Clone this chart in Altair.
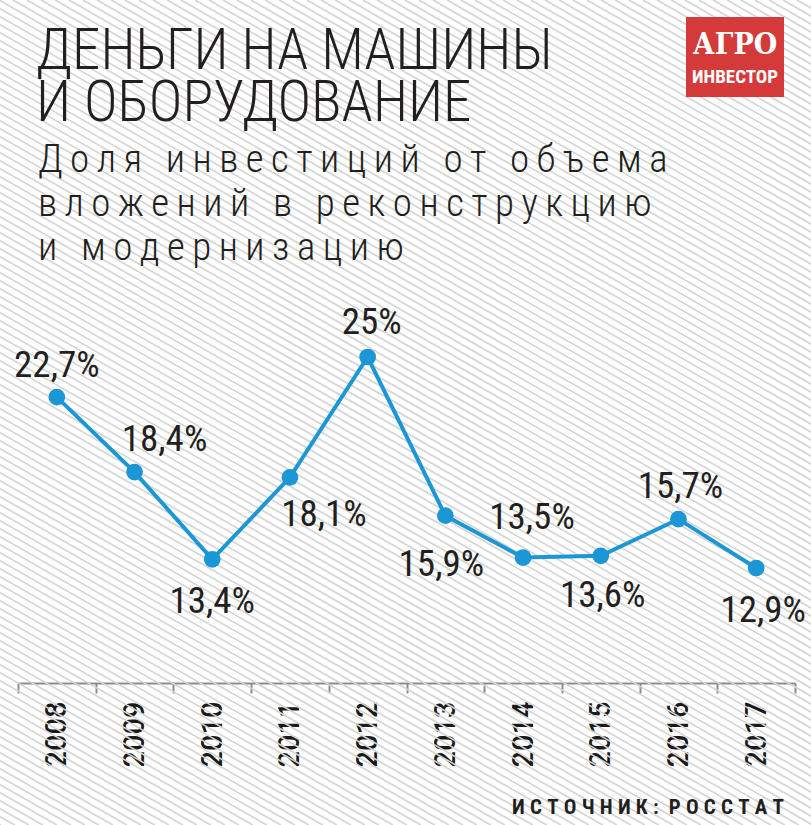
import altair as alt
import pandas as pd

# ---- data ----
years = ["2008", "2009", "2010", "2011", "2012", "2013", "2014", "2015", "2016", "2017"]
shares = [22.7, 18.4, 13.4, 18.1, 25.0, 15.9, 13.5, 13.6, 15.7, 12.9]
labels = ["22,7%", "18,4%", "13,4%", "18,1%", "25%", "15,9%", "13,5%", "13,6%", "15,7%", "12,9%"]

title_lines = ["ДЕНЬГИ НА МАШИНЫ", "И ОБОРУДОВАНИЕ"]
subtitle_lines = ["Доля инвестиций от объема", "вложений в реконструкцию", "и модернизацию"]
source_text = "ИСТОЧНИК: РОССТАТ"
logo_top = "АГРО"
logo_bottom = "ИНВЕСТОР"

# ---- layout (pixel offsets of value labels from their points) ----
label_dx = [0, 30, 0, 34, 4, -4, 9, 2, 2, 7]
label_dy = [-20, -21, 54, 49, -23, 60, -29, 51, -21, 54]

W, H_VIEW, H_TOTAL = 811, 683, 825
BLUE = "#1a97d4"
INK = "#231f20"
NARROW = "'Roboto Condensed', 'Liberation Sans Narrow', 'DejaVu Sans Condensed', 'Arial Narrow', 'Liberation Sans', sans-serif"
SANS = "Roboto, 'Liberation Sans', Arial, sans-serif"


def spaced(s, letter_gap, word_gap):
    words = s.split(" ")
    return word_gap.join(letter_gap.join(list(w)) for w in words)


df = pd.DataFrame({"year": years, "share": shares, "label": labels})

# decorative diagonal hatch of the background
step, rise, run = 14, 8, 14
span = H_TOTAL * run / rise
hatch = pd.DataFrame({"x": [float(v) for v in range(-int(span) - step, W + step, step)]})
hatch["x2"] = hatch["x"] + span
hatch["y"] = 0.0
hatch["y2"] = float(H_TOTAL)

hatch_layer = alt.Chart(hatch).mark_rule(color="#d3d3d3", strokeWidth=1.6).encode(
    x=alt.X("x:Q", scale=None), x2="x2:Q",
    y=alt.Y("y:Q", scale=None), y2="y2:Q",
)

xenc = alt.X("year:N", sort=years,
             scale=alt.Scale(range=[18, 795], paddingInner=0, paddingOuter=0),
             axis=alt.Axis(title=None, labelAngle=-90, labelFont=SANS, labelFontWeight=500,
                           labelFontSize=29, labelColor="#1a1a1a", labelPadding=8,
                           domainColor="#8c8c8c", domainWidth=2,
                           tickColor="#8c8c8c", tickWidth=2, tickSize=10,
                           tickBand="extent", grid=False))
yenc = alt.Y("share:Q", scale=alt.Scale(domain=[12.9, 25.0], range=[568, 357], zero=False),
             axis=None)

base = alt.Chart(df)
line = base.mark_line(color=BLUE, strokeWidth=4).encode(x=xenc, y=yenc)
pts = base.mark_point(filled=True, color=BLUE, size=280, opacity=1).encode(x=xenc, y=yenc)

label_layers = []
for yr, ddx, ddy in zip(years, label_dx, label_dy):
    label_layers.append(
        base.transform_filter(alt.datum.year == yr).mark_text(
            font=NARROW, fontSize=37, color=INK, align="center",
            baseline="alphabetic", dx=ddx, dy=ddy,
        ).encode(x=xenc, y=yenc, text="label:N")
    )

title = alt.Chart(pd.DataFrame({"t": ["\n".join(title_lines)]})).mark_text(
    font=NARROW, fontSize=57, fontWeight=300, color=INK, align="left", baseline="alphabetic",
    lineBreak="\n", lineHeight=52,
).encode(x=alt.value(36), y=alt.value(69), text="t:N")

sub_text = "\n".join(spaced(s, "\u2009", "\u2009 \u2009") for s in subtitle_lines)
subtitle = alt.Chart(pd.DataFrame({"t": [sub_text]})).mark_text(
    font=NARROW, fontSize=39, fontWeight=300, color=INK, align="left", baseline="alphabetic",
    lineBreak="\n", lineHeight=44,
).encode(x=alt.value(38), y=alt.value(172), text="t:N")

source = alt.Chart(pd.DataFrame({"t": [spaced(source_text, "\u2008", " \u2008")]})).mark_text(
    font=NARROW, fontSize=21, fontWeight="bold", color=INK, align="right",
    baseline="alphabetic",
).encode(x=alt.value(784), y=alt.value(814), text="t:N")

logo_box = alt.Chart(pd.DataFrame({"a": [0]})).mark_rect(color="#d43a3a").encode(
    x=alt.value(686), x2=alt.value(784), y=alt.value(17), y2=alt.value(97))
logo1 = alt.Chart(pd.DataFrame({"t": [logo_top]})).mark_text(
    font="'DejaVu Serif Condensed', 'DejaVu Serif', 'Liberation Serif', serif",
    fontWeight="bold", fontSize=30, color="white",
    align="center", baseline="alphabetic").encode(x=alt.value(735), y=alt.value(54), text="t:N")
logo2 = alt.Chart(pd.DataFrame({"t": [logo_bottom]})).mark_text(
    font=NARROW, fontWeight="bold", fontSize=19, color="white",
    align="center", baseline="alphabetic").encode(x=alt.value(735), y=alt.value(83), text="t:N")

chart = alt.layer(
    hatch_layer, line, pts, *label_layers, title, subtitle, source, logo_box, logo1, logo2
).properties(
    width=W, height=H_VIEW,
    padding={"left": 0, "top": 0, "right": 0, "bottom": H_TOTAL - H_VIEW},
    autosize=alt.AutoSizeParams(type="none"),
    background="white",
).configure_view(stroke=None)

chart.save("out.html", embed_options={"renderer": "svg", "actions": False})
